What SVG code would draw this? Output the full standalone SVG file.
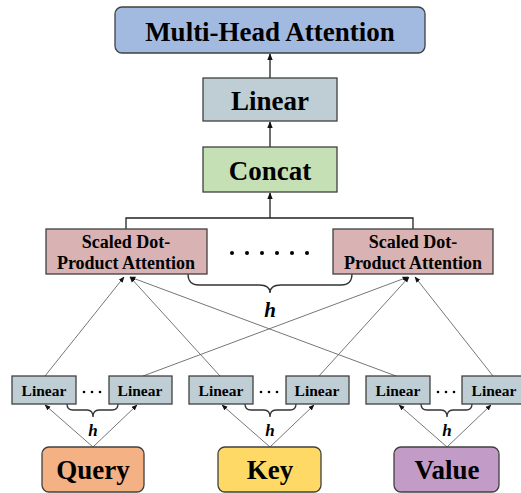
<svg xmlns="http://www.w3.org/2000/svg" width="521" height="493" viewBox="0 0 521 493">
  <defs>
    <marker id="ah" viewBox="0 0 10 10" refX="9" refY="5" markerWidth="7" markerHeight="7" orient="auto-start-reverse" markerUnits="userSpaceOnUse">
      <path d="M0,1 L10,5 L0,9 Z" fill="#111"/>
    </marker>
    <marker id="ahs" viewBox="0 0 10 10" refX="9" refY="5" markerWidth="6" markerHeight="6" orient="auto-start-reverse" markerUnits="userSpaceOnUse">
      <path d="M0,1 L10,5 L0,9 Z" fill="#111"/>
    </marker>
  </defs>
  <style>
    .box { stroke: #404040; stroke-width: 1.3; }
    .t { font-family: "Liberation Serif", "Times New Roman", serif; font-weight: bold; fill: #000; text-anchor: middle; }
    .big { font-size: 27px; }
    .mid { font-size: 18px; }
    .sm { font-size: 15.5px; }
    .io { font-size: 27px; }
    .h { font-family: "Liberation Serif", "Times New Roman", serif; font-weight: bold; font-style: italic; text-anchor: middle; fill: #000; }
    .main { stroke: #222; stroke-width: 1.3; fill: none; }
    .thin { stroke: #666; stroke-width: 0.9; fill: none; }
    .brace { stroke: #333; stroke-width: 1.3; fill: none; }
    .dots { fill: #000; }
  </style>
  <rect width="521" height="493" fill="#fff"/>

  <!-- connectors -->
  <g id="connectors">
    <line class="main" x1="270" y1="78" x2="270" y2="54" marker-end="url(#ah)"/>
    <line class="main" x1="270" y1="147" x2="270" y2="122" marker-end="url(#ah)"/>
    <polyline class="main" points="126,229 126,218 413,218 413,229"/>
    <line class="main" x1="270" y1="218" x2="270" y2="193" marker-end="url(#ah)"/>

    <!-- projections into the first attention head -->
    <line class="thin" x1="45" y1="376" x2="124" y2="277" marker-end="url(#ahs)"/>
    <line class="thin" x1="220" y1="376" x2="130" y2="277" marker-end="url(#ahs)"/>
    <line class="thin" x1="396" y1="376" x2="130" y2="277" marker-end="url(#ahs)"/>
    <!-- projections into the last attention head -->
    <line class="thin" x1="143" y1="376" x2="408" y2="277" marker-end="url(#ahs)"/>
    <line class="thin" x1="319" y1="376" x2="409" y2="277" marker-end="url(#ahs)"/>
    <line class="thin" x1="493" y1="376" x2="415" y2="277" marker-end="url(#ahs)"/>

    <!-- inputs into the per-head linear layers -->
    <line class="thin" x1="93" y1="447" x2="45" y2="405" marker-end="url(#ahs)"/>
    <line class="thin" x1="93" y1="447" x2="137" y2="405" marker-end="url(#ahs)"/>
    <line class="thin" x1="270" y1="447" x2="222" y2="405" marker-end="url(#ahs)"/>
    <line class="thin" x1="270" y1="447" x2="314" y2="405" marker-end="url(#ahs)"/>
    <line class="thin" x1="447" y1="447" x2="399" y2="405" marker-end="url(#ahs)"/>
    <line class="thin" x1="447" y1="447" x2="491" y2="405" marker-end="url(#ahs)"/>
  </g>

  <!-- braces and h labels -->
  <g id="braces">
    <path class="brace" d="M188,274 Q188,285 199,285 L259,285 Q270,285 270,293 Q270,285 281,285 L341,285 Q352,285 352,274"/>
    <text class="h" x="270" y="317" font-size="21">h</text>

    <path class="brace" d="M67,404 Q67,410 73,410 L87,410 Q93,410 93,417 Q93,410 99,410 L112,410 Q118,410 118,404"/>
    <text class="h" x="93" y="436" font-size="17">h</text>
    <path class="brace" d="M245,404 Q245,410 251,410 L264,410 Q270,410 270,417 Q270,410 276,410 L290,410 Q296,410 296,404"/>
    <text class="h" x="270" y="436" font-size="17">h</text>
    <path class="brace" d="M421,404 Q421,410 427,410 L441,410 Q447,410 447,417 Q447,410 453,410 L466,410 Q472,410 472,404"/>
    <text class="h" x="447" y="436" font-size="17">h</text>
  </g>

  <g id="mha">
    <rect class="box" x="115" y="7" width="310" height="46" rx="7" fill="#A3BAE0"/>
    <text class="t big" x="270" y="41">Multi-Head Attention</text>
  </g>
  <g id="linear-out">
    <rect class="box" x="203" y="78" width="134" height="43" fill="#BFCED4"/>
    <text class="t big" x="270" y="110">Linear</text>
  </g>
  <g id="concat">
    <rect class="box" x="203" y="147" width="134" height="45" fill="#C6E0B5"/>
    <text class="t big" x="270" y="180">Concat</text>
  </g>

  <g id="sdpa-1">
    <rect class="box" x="46" y="229" width="161" height="45" fill="#D9B3B3"/>
    <text class="t mid" x="126" y="248">Scaled Dot-</text>
    <text class="t mid" x="126" y="269">Product Attention</text>
  </g>
  <g id="sdpa-h">
    <rect class="box" x="333" y="229" width="160" height="45" fill="#D9B3B3"/>
    <text class="t mid" x="413" y="248">Scaled Dot-</text>
    <text class="t mid" x="413" y="269">Product Attention</text>
  </g>
  <g id="head-dots" class="dots">
    <circle cx="232" cy="253" r="2"/>
    <circle cx="247" cy="253" r="2"/>
    <circle cx="262" cy="253" r="2"/>
    <circle cx="277" cy="253" r="2"/>
    <circle cx="292" cy="253" r="2"/>
    <circle cx="307" cy="253" r="2"/>
  </g>

  <!-- per-head projection layers -->
  <g id="q-linear-1"><rect class="box" x="12" y="376" width="64" height="28" fill="#BFCED4"/><text class="t sm" x="44" y="396">Linear</text></g>
  <g id="q-linear-h"><rect class="box" x="109" y="376" width="63" height="28" fill="#BFCED4"/><text class="t sm" x="140" y="396">Linear</text></g>
  <g id="k-linear-1"><rect class="box" x="189" y="376" width="64" height="28" fill="#BFCED4"/><text class="t sm" x="221" y="396">Linear</text></g>
  <g id="k-linear-h"><rect class="box" x="286" y="376" width="63" height="28" fill="#BFCED4"/><text class="t sm" x="317" y="396">Linear</text></g>
  <g id="v-linear-1"><rect class="box" x="366" y="376" width="64" height="28" fill="#BFCED4"/><text class="t sm" x="398" y="396">Linear</text></g>
  <g id="v-linear-h"><rect class="box" x="462" y="376" width="64" height="28" fill="#BFCED4"/><text class="t sm" x="494" y="396">Linear</text></g>
  <g id="linear-dots" class="dots">
    <circle cx="84" cy="392" r="1.3"/><circle cx="92" cy="392" r="1.3"/><circle cx="100" cy="392" r="1.3"/>
    <circle cx="261" cy="392" r="1.3"/><circle cx="269" cy="392" r="1.3"/><circle cx="277" cy="392" r="1.3"/>
    <circle cx="438" cy="392" r="1.3"/><circle cx="446" cy="392" r="1.3"/><circle cx="454" cy="392" r="1.3"/>
  </g>

  <!-- inputs -->
  <g id="query">
    <rect class="box" x="42" y="447" width="102" height="45" rx="7" fill="#F4B183"/>
    <text class="t io" x="93" y="479">Query</text>
  </g>
  <g id="key">
    <rect class="box" x="218" y="447" width="103" height="45" rx="7" fill="#FFD966"/>
    <text class="t io" x="270" y="479">Key</text>
  </g>
  <g id="value">
    <rect class="box" x="394" y="447" width="105" height="45" rx="7" fill="#C39BC7"/>
    <text class="t io" x="447" y="479">Value</text>
  </g>
</svg>
